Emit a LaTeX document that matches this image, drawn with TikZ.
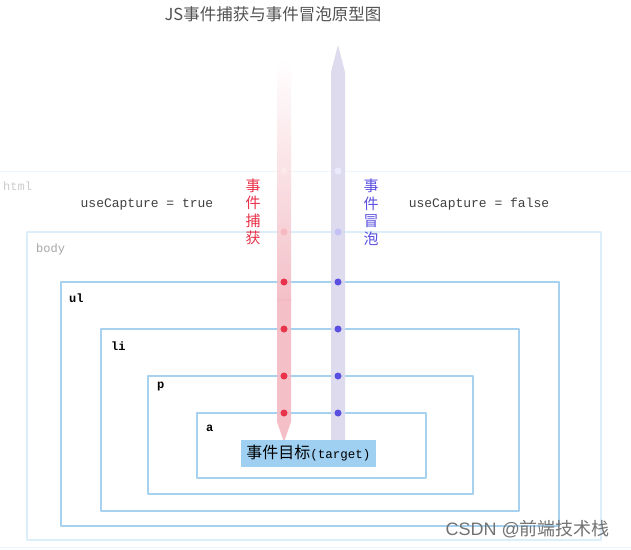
\documentclass[tikz,border=0pt]{standalone}
\usepackage{fontspec}
\setmonofont{Liberation Mono}
\newfontfamily\cjk{Noto Sans CJK SC}
\usetikzlibrary{positioning}

\definecolor{boxblue}{HTML}{A6D2F0}
\definecolor{paleblue}{HTML}{DCEEFA}
\definecolor{ghostblue}{HTML}{EEF6FC}
\definecolor{capred}{HTML}{E8334A}
\definecolor{cappink}{HTML}{F3B9C2}
\definecolor{bubblue}{HTML}{5A4FE0}
\definecolor{bublav}{HTML}{DAD8EC}
\definecolor{targetfill}{HTML}{9FD0F2}

\tikzset{
  box/.style={draw=boxblue, line width=1.8pt, inner sep=0pt, outer sep=0pt},
  tag/.style={font=\ttfamily\bfseries\fontsize{12}{13}\selectfont, text=black, inner sep=0pt, anchor=west},
  flag/.style={font=\ttfamily\fontsize{13}{14}\selectfont, text=black!75},
  dot/.style={circle, inner sep=0pt, minimum size=7pt},
}

\begin{document}
\begin{tikzpicture}[x=1pt, y=-1pt, line cap=round, line join=round]
  % Page size of the original picture (pixels, y pointing down)
  \useasboundingbox[fill=white] (0,0) rectangle (631,549);

  % Title
  \node[font=\cjk\fontsize{16.5}{18}\selectfont, text=black!68] (title) at (273,14) {JS事件捕获与事件冒泡原型图};

  % Nested element boxes, outermost first
  \node[box, draw=ghostblue, line width=1pt, minimum width=635pt, minimum height=376pt] (html) at (315.5,359) {};
  \node[box, draw=paleblue, minimum width=574pt, minimum height=308pt] (body) at (314,386) {};
  \node[box, minimum width=498pt, minimum height=244pt] (ul) at (310,404) {};
  \node[box, minimum width=418pt, minimum height=182pt] (li) at (310,420) {};
  \node[box, minimum width=325pt, minimum height=118pt] (p) at (310.5,435) {};
  \node[box, minimum width=229pt, minimum height=65pt] (a) at (311.5,445.5) {};

  % Box names
  \node[tag, font=\ttfamily\fontsize{12}{13}\selectfont, text=black!20] (htmltag) at ([shift={(5,15)}]html.north west) {html};
  \node[tag, font=\ttfamily\fontsize{12}{13}\selectfont, text=black!35] (bodytag) at ([shift={(9,17)}]body.north west) {body};
  \node[tag] (ultag) at ([shift={(8,16)}]ul.north west) {ul};
  \node[tag] (litag) at ([shift={(10,17)}]li.north west) {li};
  \node[tag] (ptag) at ([shift={(9,11)}]p.north west) {p};
  \node[tag] (atag) at ([shift={(9,15)}]a.north west) {a};

  % useCapture flags
  \node[flag] (capflag) at (147,204) {useCapture = true};
  \node[flag] (bubflag) at (479,204) {useCapture = false};

  % Capture arrow: fades in from the top, points down
  \coordinate (captop) at (284,60);
  \coordinate (captip) at (284,442);
  \shade[top color=white, bottom color=cappink, opacity=0.9] (277,60) rectangle (291,300);
  \fill[cappink, opacity=0.9] (277,299.5) -- (291,299.5) -- (291,422) -- (captip) -- (277,422) -- cycle;

  % Bubble arrow: points up
  \coordinate (bubtop) at (338,45);
  \coordinate (bubbot) at (338,450);
  \fill[bublav, opacity=0.9] (331,450) -- (331,72) -- (bubtop) -- (345,72) -- (345,450) -- cycle;

  % Crossing points on each element border
  \node[dot, fill=capred!12] (c1) at (284,171) {};
  \node[dot, fill=capred!35] (c2) at (284,232) {};
  \node[dot, fill=bubblue!12] (b1) at (338,171) {};
  \node[dot, fill=bubblue!35] (b2) at (338,232) {};
  \foreach \yy [count=\i from 3] in {282,329,376,413} {
    \node[dot, fill=capred] (c\i) at (284,\yy) {};
    \node[dot, fill=bubblue] (b\i) at (338,\yy) {};
  }

  % Arrow captions, written top to bottom
  \node[font=\cjk\fontsize{15}{17.5}\selectfont, text=capred, align=center] (caplabel) at (253,212) {事\\件\\捕\\获};
  \node[font=\cjk\fontsize{15}{17.5}\selectfont, text=bubblue, align=center] (bublabel) at (371,212) {事\\件\\冒\\泡};

  % Event target
  \node[fill=targetfill, minimum width=135pt, minimum height=27pt, inner sep=0pt] (target) at (308.5,453.5)
    {\cjk\fontsize{16}{18}\selectfont 事件目标\ttfamily\fontsize{12.5}{14}\selectfont (target)};

  % Watermark
  \node[font=\fontspec{Liberation Sans}\fontsize{18}{20}\selectfont, text=black!55, anchor=west] (mark) at (442,529)
    {CSDN @{\cjk 前端技术栈}};
\end{tikzpicture}
\end{document}
